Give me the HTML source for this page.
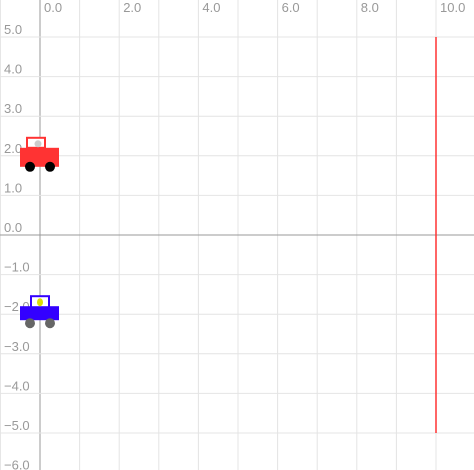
<!DOCTYPE html>
<html><head><meta charset="utf-8"><style>
html,body{margin:0;padding:0;background:#fff;width:474px;height:470px;overflow:hidden}
svg{display:block}
text{font-family:"Liberation Sans",sans-serif;font-size:13px;fill:#999}
</style></head><body>
<svg id="c" width="474" height="470"></svg>
<script>
const xTicks=[-1,0,1,2,3,4,5,6,7,8,9,10,11];
const yTicks=[6,5,4,3,2,1,0,-1,-2,-3,-4,-5,-6];
const xLabels=[0,2,4,6,8,10];
const yLabels=[5,4,3,2,1,0,-1,-2,-3,-4,-5,-6];
const cars=[{name:'red-car',x:0,y:2,body:'#ff3333',wheel:'#000',dot:'#ccc'},{name:'blue-car',x:0,y:-2,body:'#3300ff',wheel:'#666',dot:'#dddd00'}];
const finishX=[10];
const finishY=[-5,5];
const S=39.6;
function X(v){return 40+v*S;}
function Y(v){return 235-v*S;}
const svg=document.getElementById('c');
const NS='http://www.w3.org/2000/svg';
function mk(t,a,p){const e=document.createElementNS(NS,t);for(const k in a)e.setAttribute(k,a[k]);(p||svg).appendChild(e);return e;}
xTicks.forEach(v=>{const l=mk('line',{x1:X(v),x2:X(v),y1:0,y2:470,stroke:v===0?'#999':'#e4e4e4','stroke-width':1});

});
yTicks.forEach(v=>{const l=mk('line',{x1:0,x2:474,y1:Y(v),y2:Y(v),stroke:v===0?'#999':'#e4e4e4','stroke-width':1});

});
xLabels.forEach(v=>{const t=mk('text',{x:X(v)+4,y:12});t.textContent=v.toFixed(1);

});
yLabels.forEach(v=>{const t=mk('text',{x:4,y:Y(v)-3});t.textContent=v.toFixed(1).replace('-','\u2212');

});
const fl=mk('line',{x1:X(finishX[0]),x2:X(finishX[0]),y1:Y(finishY[1]),y2:Y(finishY[0]),stroke:'#ff3333','stroke-width':1.5});


cars.forEach((c,i)=>{const g=mk('g',{});


const cx=X(c.x),cy=Y(c.y);
if(i===0){
mk('rect',{x:cx-13,y:cy-18,width:18,height:10,fill:'#fff',stroke:c.body,'stroke-width':2},g);
mk('rect',{x:cx-20,y:cy-8,width:39,height:19,fill:c.body},g);
mk('circle',{cx:cx-2,cy:cy-12,r:3.5,fill:c.dot},g);
mk('circle',{cx:cx-10,cy:cy+11,r:5,fill:c.wheel},g);
mk('circle',{cx:cx+10,cy:cy+11,r:5,fill:c.wheel},g);
}else{
mk('rect',{x:cx-9,y:cy-18,width:18,height:12,fill:'#fff',stroke:c.body,'stroke-width':2},g);
mk('rect',{x:cx-20,y:cy-8,width:39,height:14,fill:c.body},g);
mk('ellipse',{cx:cx,cy:cy-12,rx:3,ry:4,fill:c.dot},g);
mk('circle',{cx:cx-10,cy:cy+9,r:5,fill:c.wheel},g);
mk('circle',{cx:cx+10,cy:cy+9,r:5,fill:c.wheel},g);
}});
</script>
</body></html>
